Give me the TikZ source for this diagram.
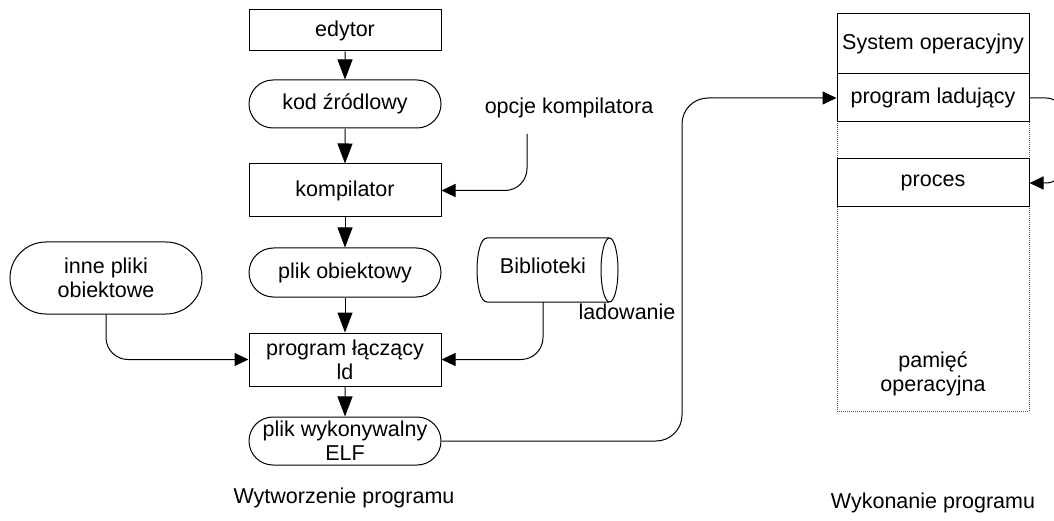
\documentclass[tikz,border=0pt]{standalone}
\usepackage{fontspec}
\setmainfont{Liberation Sans}
\usetikzlibrary{arrows.meta,shapes.misc}

\begin{document}
\begin{tikzpicture}[x=1pt,y=-1pt,line width=1pt,
  every node/.style={font=\fontsize{21.5}{24}\selectfont,inner sep=0pt,align=center},
  procbox/.style={draw,rectangle,minimum width=192pt},
  databox/.style={draw,rounded rectangle,minimum width=192pt,minimum height=48pt},
  memslot/.style={draw,rectangle,minimum width=192pt},
  varrow/.style={-{Triangle[length=20pt,width=15pt]}},
  harrow/.style={-{Triangle[length=14pt,width=13pt]}},
  elbow/.style={rounded corners=22pt}]

\clip (0,0) rectangle (1054,521);
\useasboundingbox (0,0) rectangle (1054,521);

% --- building the program ---
\node[procbox,minimum height=41pt] (edytor) at (345,30.5) {edytor};
\node[databox] (kod) at (345,104) {kod źródlowy};
\node[procbox,minimum height=53pt] (kompilator) at (345,190.5) {kompilator};
\node[databox,minimum height=49pt] (obj) at (345,272.5) {plik obiektowy};
\node[procbox,minimum height=53pt] (linker) at (345,359.5) {program łączący\\ld};
\node[databox] (elf) at (345,441) {plik wykonywalny\\ELF};
\node[databox,minimum height=72pt] (inne) at (106,278) {inne pliki\\obiektowe};

\node (opcje) at (569,108) {opcje kompilatora};
\coordinate (optfoot) at (527,134);

% library cylinder
\node (bib) at (543,266) {Biblioteki};
\draw (609,238) -- (487,238)
      .. controls (473.7,238) and (473.7,302) .. (487,302) -- (609,302);
\draw (609.5,270) ellipse [x radius=8.5, y radius=32];
\coordinate (bibfoot) at (543,302);

\node (ladowanie) at (627,312) {ladowanie};
\node (wytw) at (344,498) {Wytworzenie programu};

% --- running the program ---
\node[draw=black!65,densely dotted,rectangle,minimum width=192pt,minimum height=397pt] (mem) at (933,212.5) {};
\node[memslot,minimum height=60pt] (sysop) at (933,44) {System operacyjny};
\node[memslot,minimum height=48pt] (loader) at (933,98) {program ladujący};
\node[memslot,minimum height=48pt] (proces) at (933,183) {proces};
\node (pamiec) at (933,374) {pamięć\\operacyjna};
\node (wyk) at (933,503) {Wykonanie programu};

% --- connectors ---
\draw[varrow] (edytor) -- (kod);
\draw[varrow] (kod) -- (kompilator);
\draw[varrow] (kompilator) -- (obj);
\draw[varrow] (obj) -- (linker);
\draw[varrow] (linker) -- (elf);
\draw[harrow,elbow] (optfoot) |- (kompilator.east);
\draw[harrow,elbow] (inne.south) |- (linker.west);
\draw[harrow,elbow] (bibfoot) |- (linker.east);

\coordinate (loadbend) at (682,270);
\draw[harrow,rounded corners=26pt] (elf.east) -| (loadbend) |- (loader.west);

\coordinate (loopbend) at (1064,140);
\draw[harrow,rounded corners=18pt] (loader.east) -| (loopbend) |- (proces.east);
\end{tikzpicture}
\end{document}
